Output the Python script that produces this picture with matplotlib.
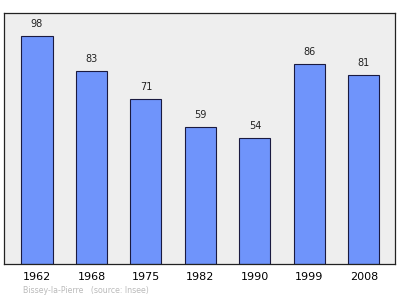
import matplotlib.pyplot as plt

years = ["1962", "1968", "1975", "1982", "1990", "1999", "2008"]
population = [98, 83, 71, 59, 54, 86, 81]

fig = plt.figure(figsize=(4, 2.99), dpi=100)
ax = fig.add_axes([0.01, 0.117, 0.9775, 0.8395])
ax.set_facecolor("#eeeeee")

x = range(len(years))
ax.bar(x, population, width=0.57, color="#6f94fb", edgecolor="#1a1a40", linewidth=0.8)

for i, v in enumerate(population):
    ax.text(i, v + 3, str(v), ha="center", va="bottom", fontsize=7, color="#222222")

ax.set_xlim(-0.605, 6.57)
ax.set_ylim(0, 107.8)
ax.set_xticks(list(x))
ax.set_xticklabels(years, fontsize=8)
ax.tick_params(axis="x", length=0, pad=6)
ax.set_yticks([])
for s in ax.spines.values():
    s.set_linewidth(0.9)
    s.set_color("#222222")

fig.text(0.058, 0.02, "Bissey-la-Pierre   (source: Insee)", fontsize=5.7, color="#bbbbbb")

fig.savefig("out.png", dpi=100)
